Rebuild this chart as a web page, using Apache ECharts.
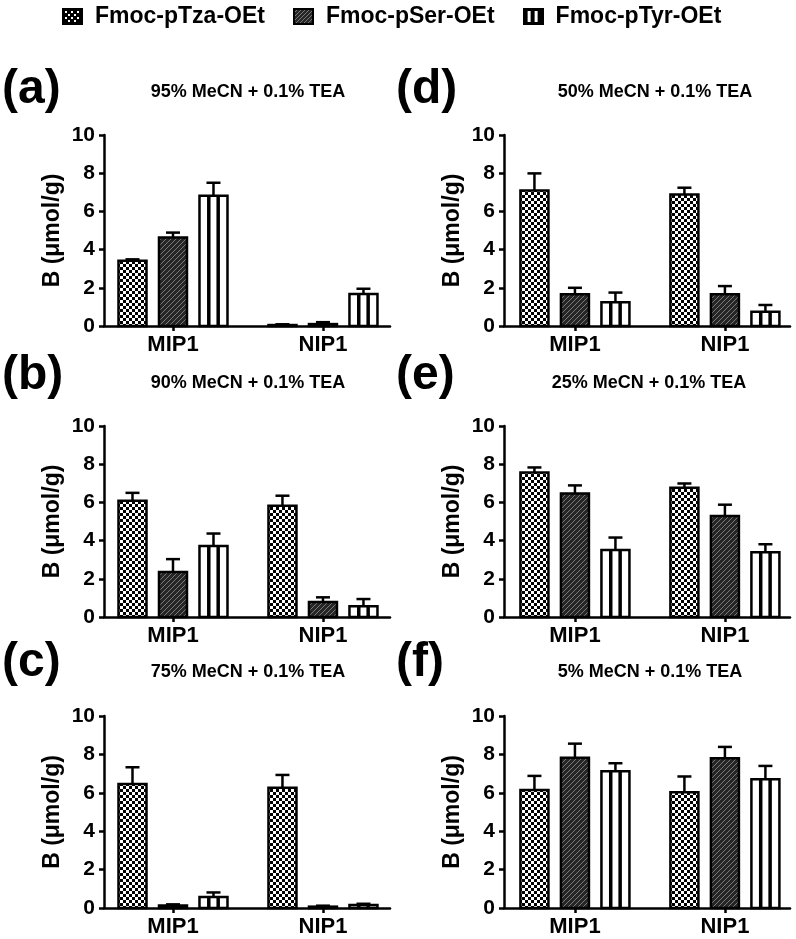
<!DOCTYPE html>
<html><head><meta charset="utf-8">
<script src="https://cdn.jsdelivr.net/npm/echarts@6/dist/echarts.min.js"></script>
<style>html,body{margin:0;padding:0;background:#fff}#c{width:796px;height:939px}</style>
</head><body><div id="c"></div>
<script>
// ---------- DATA ----------
const categories = ['MIP1', 'NIP1'];
const seriesNames = ['Fmoc-pTza-OEt', 'Fmoc-pSer-OEt', 'Fmoc-pTyr-OEt'];
const panelLabels = ['(a)', '(b)', '(c)', '(d)', '(e)', '(f)'];
const panelTitles = ['95% MeCN + 0.1% TEA', '90% MeCN + 0.1% TEA', '75% MeCN + 0.1% TEA',
                     '50% MeCN + 0.1% TEA', '25% MeCN + 0.1% TEA', '5% MeCN + 0.1% TEA'];
const yAxisName = 'B (\u03bcmol/g)';
const yMin = 0, yMax = 10, yStep = 2;
// means / SD: [series][category]  (series order: pTza, pSer, pTyr)
const meanA = [[3.42, 0.05], [4.64, 0.10], [6.82, 1.68]];
const sdA   = [[0.07, 0.04], [0.25, 0.10], [0.68, 0.27]];
const meanB = [[6.09, 5.83], [2.35, 0.78], [3.72, 0.56]];
const sdB   = [[0.41, 0.52], [0.68, 0.25], [0.65, 0.38]];
const meanC = [[6.46, 6.26], [0.13, 0.07], [0.57, 0.16]];
const sdC   = [[0.87, 0.67], [0.06, 0.05], [0.24, 0.06]];
const meanD = [[7.09, 6.88], [1.66, 1.66], [1.24, 0.75]];
const sdD   = [[0.90, 0.36], [0.34, 0.43], [0.51, 0.35]];
const meanE = [[7.57, 6.77], [6.47, 5.29], [3.51, 3.39]];
const sdE   = [[0.26, 0.22], [0.42, 0.59], [0.65, 0.42]];
const meanF = [[6.14, 6.03], [7.83, 7.80], [7.12, 6.71]];
const sdF   = [[0.74, 0.82], [0.73, 0.59], [0.42, 0.69]];

const means = [meanA, meanB, meanC, meanD, meanE, meanF];
const sds = [sdA, sdB, sdC, sdD, sdE, sdF];

// ---------- LAYOUT / STYLE ----------
const FONT = '"Liberation Sans", Arial, Helvetica, sans-serif';
const cols = [{ left: 104, xmin: -0.46, xmax: 1.447, labelX: 2 },
              { left: 504, xmin: -0.473, xmax: 1.434, labelX: 396 }];
const rows = [{ top: 135, height: 191, labelY: 90, titleY: 92 },
              { top: 426, height: 191, labelY: 376, titleY: 383 },
              { top: 716, height: 192, labelY: 663, titleY: 672 }];
const titleX = [248, 248, 248, 655, 649, 650];
const GRID_W = 286, BAR_W = 28, BAR_STEP = 40.5, CAP_HALF = 7;

function makeChecker() {
  const c = document.createElement('canvas'); c.width = 6; c.height = 6;
  const g = c.getContext('2d');
  g.fillStyle = '#000'; g.fillRect(0, 0, 6, 6);
  g.fillStyle = '#fff'; g.fillRect(0, 0, 3, 3); g.fillRect(3, 3, 3, 3);
  return c;
}
function makeHatch() {
  const c = document.createElement('canvas'); c.width = 5; c.height = 5;
  const g = c.getContext('2d');
  g.fillStyle = '#262626'; g.fillRect(0, 0, 5, 5);
  g.strokeStyle = '#7a7a7a'; g.lineWidth = 1;
  g.beginPath();
  for (let o = -5; o <= 5; o += 5) { g.moveTo(o, 5); g.lineTo(o + 5, 0); }
  g.stroke();
  return c;
}
const fills = [
  { image: makeChecker(), repeat: 'repeat' },
  { image: makeHatch(), repeat: 'repeat' },
  '#ffffff'
];

function legendIcon(k) {
  const c = document.createElement('canvas'); c.width = 21; c.height = 17;
  const g = c.getContext('2d');
  g.fillStyle = '#000'; g.fillRect(0, 0, 21, 17);
  if (k === 0) {
    g.fillStyle = '#fff';
    for (let y = 3; y < 14; y += 3) for (let x = 3; x < 18; x += 3)
      if (((x + y) / 3) % 2 === 0) g.fillRect(x, y, 2, 2);
  } else if (k === 1) {
    g.fillStyle = '#262626'; g.fillRect(2, 2, 17, 13);
    g.save(); g.beginPath(); g.rect(2, 2, 17, 13); g.clip();
    g.strokeStyle = '#7a7a7a'; g.lineWidth = 1; g.beginPath();
    for (let o = -15; o <= 21; o += 4) { g.moveTo(o, 17); g.lineTo(o + 17, 0); }
    g.stroke(); g.restore();
  } else {
    g.fillStyle = '#fff'; g.fillRect(5, 3, 3, 11); g.fillRect(12, 3, 3, 11);
  }
  return c.toDataURL();
}

function makeRender(k) {
  const off = (k - 1) * BAR_STEP;
  return function (params, api) {
    const x = api.value(0), v = api.value(1), e = api.value(2);
    const top = api.coord([x, v]);
    const base = api.coord([x, 0]);
    const cap = api.coord([x, v + e]);
    const cx = top[0] + off;
    const h = Math.max(base[1] - top[1], 0.5);
    const children = [{
      type: 'rect',
      shape: { x: cx - BAR_W / 2, y: top[1], width: BAR_W, height: h },
      style: { fill: fills[k], stroke: '#000', lineWidth: 2.5 }
    }];
    if (k === 2 && h > 3) {
      [-4.7, 4.7].forEach(function (d) {
        children.push({ type: 'line', shape: { x1: cx + d, y1: top[1], x2: cx + d, y2: base[1] },
          style: { stroke: '#000', lineWidth: 3.5 } });
      });
    }
    children.push({ type: 'line', shape: { x1: cx, y1: top[1], x2: cx, y2: cap[1] },
      style: { stroke: '#000', lineWidth: 2.5 } });
    children.push({ type: 'line', shape: { x1: cx - CAP_HALF, y1: cap[1], x2: cx + CAP_HALF, y2: cap[1] },
      style: { stroke: '#000', lineWidth: 2.5 } });
    return { type: 'group', children: children };
  };
}

const grids = [], xAxes = [], yAxes = [], series = [], graphics = [];
for (let p = 0; p < 6; p++) {
  const col = cols[p < 3 ? 0 : 1], row = rows[p % 3];
  grids.push({ left: col.left, top: row.top, width: GRID_W, height: row.height, containLabel: false });
  xAxes.push({
    type: 'value', gridIndex: p, min: col.xmin, max: col.xmax,
    axisLine: { show: true, onZero: false, lineStyle: { color: '#000', width: 2.5 } },
    axisTick: { show: true, customValues: [0, 1], length: 5, lineStyle: { color: '#000', width: 2.5 } },
    axisLabel: { show: true, customValues: [0, 1], formatter: function (v) { return categories[Math.round(v)]; },
      color: '#000', fontSize: 22, fontWeight: 'bold', fontFamily: FONT, margin: 8 },
    splitLine: { show: false }
  });
  yAxes.push({
    type: 'value', gridIndex: p, min: yMin, max: yMax, interval: yStep,
    name: yAxisName, nameLocation: 'middle', nameGap: 40,
    nameTextStyle: { color: '#000', fontSize: 23, fontWeight: 'bold', fontFamily: FONT },
    axisLine: { show: true, onZero: false, lineStyle: { color: '#000', width: 2.5 } },
    axisTick: { show: true, length: 5, lineStyle: { color: '#000', width: 2.5 } },
    axisLabel: { color: '#000', fontSize: 21, fontWeight: 'bold', fontFamily: FONT, margin: 9 },
    splitLine: { show: false }
  });
  for (let k = 0; k < 3; k++) {
    series.push({
      type: 'custom', name: seriesNames[k], xAxisIndex: p, yAxisIndex: p,
      renderItem: makeRender(k), encode: { x: 0, y: 1 },
      itemStyle: { color: k === 1 ? '#262626' : '#000' },
      data: categories.map(function (c, i) { return [i, means[p][k][i], sds[p][k][i]]; })
    });
  }
  graphics.push({ type: 'text', x: col.labelX, y: row.labelY,
    style: { text: panelLabels[p], fill: '#000', fontSize: 48, fontWeight: 'bold', fontFamily: FONT,
      align: 'left', verticalAlign: 'middle' } });
  graphics.push({ type: 'text', x: titleX[p], y: row.titleY,
    style: { text: panelTitles[p], fill: '#000', fontSize: 18, fontWeight: 'bold', fontFamily: FONT,
      align: 'center', verticalAlign: 'middle' } });
}

const chart = echarts.init(document.getElementById('c'), null, { renderer: 'canvas' });
chart.setOption({
  backgroundColor: '#fff',
  animation: false,
  legend: {
    top: 0, left: 57, itemWidth: 21, itemHeight: 17, itemGap: 28,
    textStyle: { color: '#000', fontSize: 23, fontWeight: 'bold', fontFamily: FONT, padding: [0, 0, 0, 7] },
    data: seriesNames.map(function (n, k) { return { name: n, icon: 'image://' + legendIcon(k) }; })
  },
  grid: grids, xAxis: xAxes, yAxis: yAxes, series: series,
  graphic: graphics
});
</script></body></html>
